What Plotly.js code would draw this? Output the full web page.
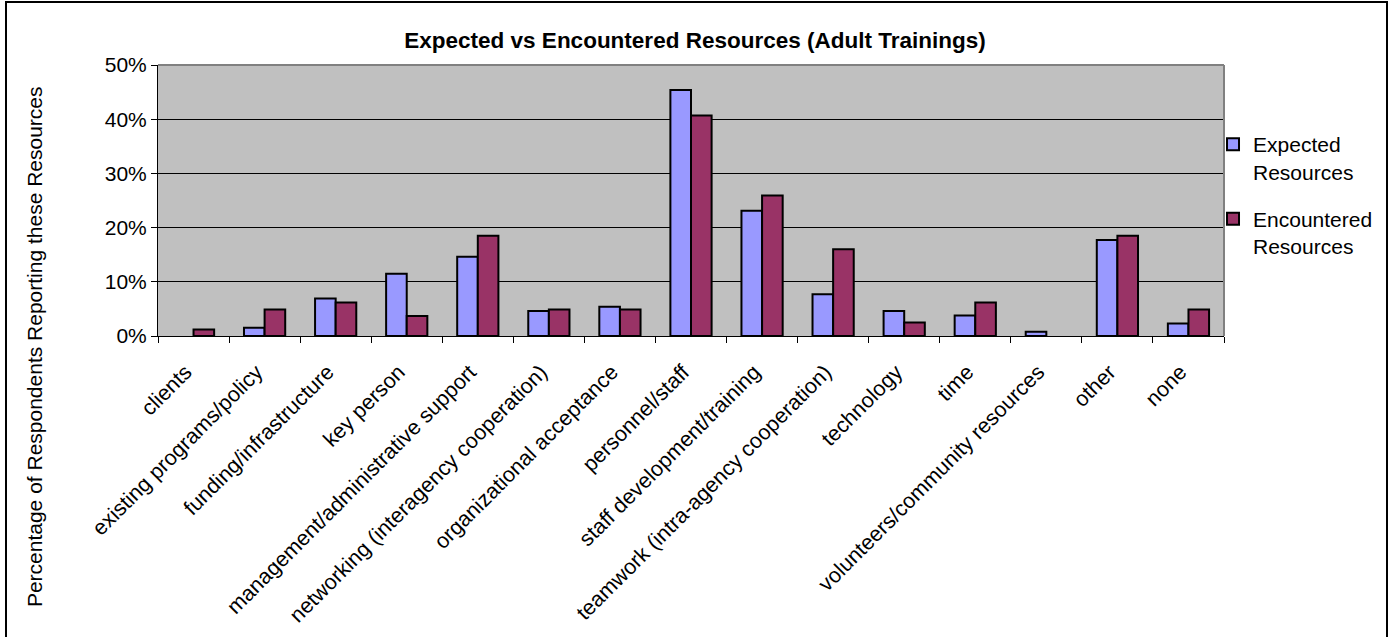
<!DOCTYPE html>
<html>
<head>
<meta charset="utf-8">
<script src="https://cdn.plot.ly/plotly-3.0.1.min.js"></script>
<style>
  html, body { margin: 0; padding: 0; background: #fff; }
  #chart { position: absolute; left: 0; top: 0; width: 1390px; height: 637px; }
  #frame { position: absolute; left: 5px; top: 1px; width: 1379px; height: 640px; border: 2px solid #000; pointer-events: none; }
</style>
</head>
<body>
<div id="chart"></div>
<div id="frame"></div>
<script>
const categories = [
  "clients",
  "existing programs/policy",
  "funding/infrastructure",
  "key person",
  "management/administrative support",
  "networking (interagency cooperation)",
  "organizational acceptance",
  "personnel/staff",
  "staff development/training",
  "teamwork (intra-agency cooperation)",
  "technology",
  "time",
  "volunteers/community resources",
  "other",
  "none"
];
const expectedResources = [0, 0.015, 0.069, 0.115, 0.146, 0.046, 0.054, 0.454, 0.231, 0.077, 0.046, 0.038, 0.008, 0.177, 0.023];
const encounteredResources = [0.012, 0.049, 0.062, 0.037, 0.185, 0.049, 0.049, 0.407, 0.259, 0.160, 0.025, 0.062, 0, 0.185, 0.049];
const seriesNames = ["Expected<br>Resources", "Encountered<br>Resources"];
const yTickValues = [0, 0.1, 0.2, 0.3, 0.4, 0.5];

const FONT = "Arial, 'Liberation Sans', sans-serif";
// Excel draws nothing for a 0% bar: leave those points empty
const drawn = vals => vals.map(v => (v === 0 ? null : v));

const traces = [
  {
    type: "bar", x: categories, y: drawn(expectedResources), name: seriesNames[0],
    legendgroup: "a",
    marker: { color: "#9999FF", line: { color: "#000", width: 2 } },
    hoverinfo: "x+y"
  },
  {
    type: "bar", x: categories, y: drawn(encounteredResources), name: seriesNames[1],
    legendgroup: "b",
    marker: { color: "#993366", line: { color: "#000", width: 2 } },
    hoverinfo: "x+y"
  }
];

const layout = {
  width: 1390, height: 637,
  margin: { l: 158, r: 166, t: 65, b: 301, pad: 0 },
  paper_bgcolor: "#fff",
  plot_bgcolor: "#C0C0C0",
  font: { family: FONT, size: 21, color: "#000" },
  barmode: "group",
  bargap: 0.42,
  bargroupgap: 0,
  title: {
    text: "<b>Expected vs Encountered Resources (Adult Trainings)</b>",
    font: { family: FONT, size: 22.5, color: "#000" },
    x: 0.5, xref: "container", xanchor: "center",
    y: 1 - 40 / 637, yref: "container", yanchor: "middle"
  },
  xaxis: {
    type: "category",
    tickangle: -45,
    ticks: "outside", tickson: "boundaries", ticklen: 6, tickcolor: "#000", tickwidth: 1,
    showline: true, linecolor: "#000", linewidth: 1,
    showgrid: false,
    tickfont: { family: FONT, size: 21.5, color: "#000" },
    ticklabelstandoff: 14,
    ticklabelshift: -8,
    automargin: false
  },
  yaxis: {
    range: [0, 0.5],
    tickvals: yTickValues,
    tickformat: ".0%",
    ticks: "outside", ticklen: 6, tickcolor: "#000", tickwidth: 1,
    showline: true, linecolor: "#000", linewidth: 1,
    showgrid: true, gridcolor: "#000", gridwidth: 1,
    zeroline: false,
    tickfont: { family: FONT, size: 21, color: "#000" },
    automargin: false
  },
  showlegend: true,
  legend: {
    xref: "paper", yref: "paper",
    x: (1214 - 158) / 1067, xanchor: "left",
    y: 1 - (124 - 65) / 271, yanchor: "top",
    bgcolor: "rgba(0,0,0,0)",
    font: { family: FONT, size: 21, color: "#000" },
    tracegroupgap: 17,
    valign: "top",
    itemwidth: 30
  },
  shapes: [
    { type: "line", xref: "paper", yref: "paper", x0: 0, x1: 1, y0: 1, y1: 1, line: { color: "#808080", width: 2 }, layer: "above" },
    { type: "line", xref: "paper", yref: "paper", x0: 1, x1: 1, y0: 0, y1: 1, line: { color: "#808080", width: 2 }, layer: "above" }
  ],
  annotations: [
    {
      text: "Percentage of Respondents Reporting these Resources",
      xref: "paper", yref: "paper",
      x: (35 - 158) / 1067, y: (336 - 347) / 271,
      xanchor: "center", yanchor: "middle",
      textangle: -90, showarrow: false,
      font: { family: FONT, size: 21, color: "#000" }
    }
  ]
};

Plotly.newPlot("chart", traces, layout, { displayModeBar: false, staticPlot: true });
</script>
</body>
</html>
